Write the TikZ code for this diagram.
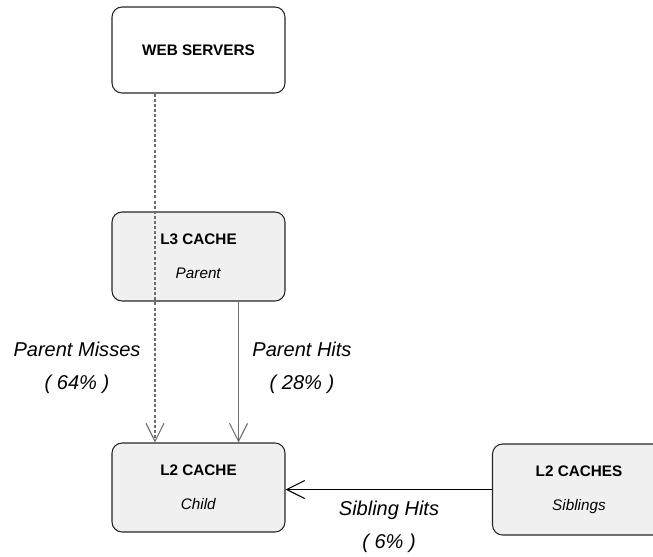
\documentclass[tikz,border=0pt]{standalone}
\usepackage{fontspec}
\setmainfont{Liberation Sans}
\usetikzlibrary{arrows.meta, calc}
\definecolor{boxgray}{HTML}{F0F0F0}
\definecolor{linegray}{HTML}{6E6E6E}
\tikzset{cachebox/.style = {draw=black!85, line width=0.6pt, rounded corners=2mm, minimum width=3.46cm, minimum height=1.78cm, align=center, font=\fontsize{8.7}{10.4}\selectfont}}
\tikzset{hitline/.style = {-{Straight Barb[length=3.6mm, width=3.6mm]}, line width=0.6pt}}
\tikzset{ratelabel/.style = {align=center, font=\fontsize{11.4}{18.8}\selectfont\itshape}}

\begin{document}
\begin{tikzpicture}[x=0.02cm, y=-0.02cm]
\useasboundingbox (0,0) rectangle (653,556);
\clip (0,0) rectangle (653,556);
\node[cachebox, fill=white, minimum height=1.72cm] (web) at (198.5,50) {\textbf{WEB SERVERS}};
\node[cachebox, fill=boxgray] (l3) at (198.5,256.5) {\textbf{L3 CACHE}\\[9pt]\textit{Parent}};
\node[cachebox, fill=boxgray] (l2) at (198.5,487.5) {\textbf{L2 CACHE}\\[9pt]\textit{Child}};
\node[cachebox, fill=boxgray, minimum height=1.82cm] (sib) at (579,489.5) {\textbf{L2 CACHES}\\[9pt]\textit{Siblings}};
\draw[hitline, linegray, dash pattern=on 1.7pt off 1.2pt] ($(web.south west)!0.25!(web.south east)$) -- ($(l2.north west)!0.25!(l2.north east)$);
\draw[hitline, linegray] ($(l3.south west)!0.73!(l3.south east)$) -- ($(l2.north west)!0.73!(l2.north east)$);
\draw[hitline] (sib.west) -- (l2.east |- sib.west);
\node[ratelabel] (misses) at (77,368) {Parent Misses\\( 64\% )};
\node[ratelabel] (phits) at (302,368) {Parent Hits\\( 28\% )};
\node[ratelabel] (shits) at (389,527) {Sibling Hits\\( 6\% )};
\end{tikzpicture}
\end{document}
